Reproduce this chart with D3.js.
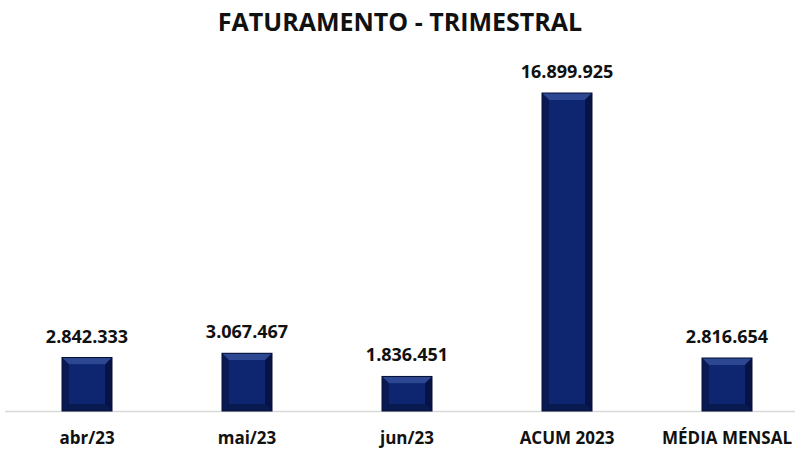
<!DOCTYPE html>
<html>
<head>
<meta charset="utf-8">
<script src="https://cdn.jsdelivr.net/npm/d3@7"></script>
<style>
    body { margin: 0; background: #fff; }
    text { font-family: "Open Sans", sans-serif; font-weight: bold; fill: #111; }
</style>
</head>
<body>
<div id="chart"></div>
<script>
    var categories = ["abr/23", "mai/23", "jun/23", "ACUM 2023", "MÉDIA MENSAL"];
    var values = [2842333, 3067467, 1836451, 16899925, 2816654];
    var valueLabels = ["2.842.333", "3.067.467", "1.836.451", "16.899.925", "2.816.654"];

    var w = 801, h = 450;
    var baseY = 411, topY = 93;

    var svg = d3.select("#chart").append("svg")
        .attr("width", w)
        .attr("height", h);

    var xScale = d3.scaleBand()
        .domain(categories)
        .range([7, 807])
        .paddingInner(0.6875)
        .paddingOuter(0.34375);

    var yScale = d3.scaleLinear()
        .domain([0, d3.max(values)])
        .range([baseY, topY]);

    // title
    svg.append("text")
        .attr("x", 400)
        .attr("y", 31)
        .attr("text-anchor", "middle")
        .style("font-size", "25px")
        .text("FATURAMENTO - TRIMESTRAL");

    // baseline
    svg.append("line")
        .attr("x1", 5).attr("x2", 795)
        .attr("y1", baseY + 0.5).attr("y2", baseY + 0.5)
        .attr("stroke", "#d9d9d9")
        .attr("stroke-width", 1.5);

    var data = categories.map(function (c, i) {
        return { cat: c, v: values[i], label: valueLabels[i] };
    });

    var b = 7; // bevel size
    var bars = svg.selectAll("g.bar")
        .data(data)
        .enter()
        .append("g")
        .attr("class", "bar");

    function poly(sel, fn, color) {
        sel.append("polygon")
            .attr("points", function (d) {
                return fn(d).map(function (p) { return p.join(","); }).join(" ");
            })
            .attr("fill", color);
    }

    var X0 = function (d) { return xScale(d.cat); };
    var X1 = function (d) { return xScale(d.cat) + xScale.bandwidth(); };
    var Y0 = function (d) { return yScale(d.v); };
    var Y1 = function () { return baseY; };

    bars.append("rect")
        .attr("x", X0)
        .attr("y", Y0)
        .attr("width", xScale.bandwidth())
        .attr("height", function (d) { return baseY - yScale(d.v); })
        .attr("fill", "#0b2064");

    // top bevel
    poly(bars, function (d) {
        return [[X0(d), Y0(d)], [X1(d), Y0(d)], [X1(d) - b, Y0(d) + b], [X0(d) + b, Y0(d) + b]];
    }, "#2d4792");
    // left bevel
    poly(bars, function (d) {
        return [[X0(d), Y0(d)], [X0(d) + b, Y0(d) + b], [X0(d) + b, Y1(d) - b], [X0(d), Y1(d)]];
    }, "#081954");
    // right bevel
    poly(bars, function (d) {
        return [[X1(d), Y0(d)], [X1(d), Y1(d)], [X1(d) - b, Y1(d) - b], [X1(d) - b, Y0(d) + b]];
    }, "#061445");
    // bottom bevel
    poly(bars, function (d) {
        return [[X0(d), Y1(d)], [X0(d) + b, Y1(d) - b], [X1(d) - b, Y1(d) - b], [X1(d), Y1(d)]];
    }, "#091a50");
    // face
    bars.append("rect")
        .attr("x", function (d) { return X0(d) + b; })
        .attr("y", function (d) { return Y0(d) + b; })
        .attr("width", xScale.bandwidth() - 2 * b)
        .attr("height", function (d) { return Math.max(0, baseY - yScale(d.v) - 2 * b); })
        .attr("fill", "#0e2670");
    // outline
    bars.append("rect")
        .attr("x", X0)
        .attr("y", Y0)
        .attr("width", xScale.bandwidth())
        .attr("height", function (d) { return baseY - yScale(d.v); })
        .attr("fill", "none")
        .attr("stroke", "#040e33")
        .attr("stroke-width", 1);

    // value labels
    bars.append("text")
        .attr("x", function (d) { return X0(d) + xScale.bandwidth() / 2; })
        .attr("y", function (d) { return yScale(d.v) - 15; })
        .attr("text-anchor", "middle")
        .style("font-size", "18px")
        .text(function (d) { return d.label; });

    // x axis
    var xAxis = d3.axisBottom(xScale).tickSize(0).tickPadding(0);
    var gx = svg.append("g")
        .attr("class", "x axis")
        .attr("transform", "translate(0," + (baseY + 33) + ")")
        .call(xAxis);
    gx.select(".domain").remove();
    gx.selectAll("text")
        .attr("dy", 0)
        .style("font-size", "17px")
        .style("font-family", "'Open Sans', sans-serif")
        .style("fill", "#111");
</script>
</body>
</html>
